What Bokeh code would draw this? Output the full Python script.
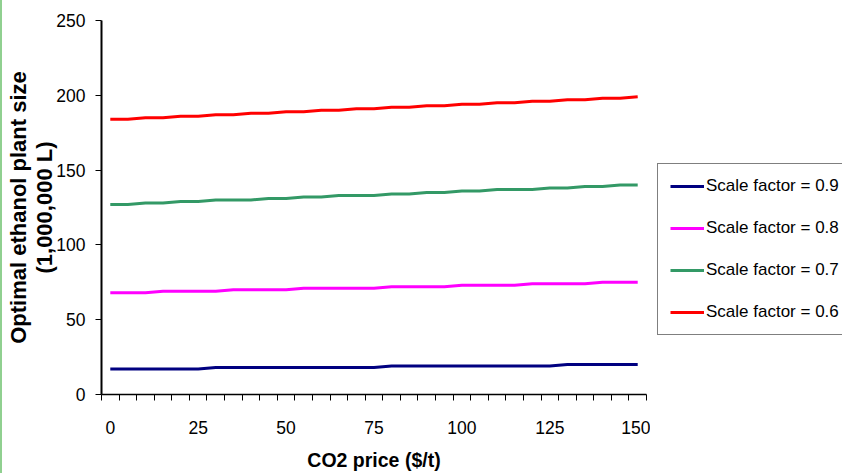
from bokeh.plotting import figure
from bokeh.layouts import row
from bokeh.models import Range1d, FixedTicker, Legend, LegendItem, LinearAxis
from bokeh.embed import file_html
from bokeh.resources import INLINE

# CO2 price ($/t), one point every 5 $/t
co2_price = [0, 5, 10, 15, 20, 25, 30, 35, 40, 45, 50, 55, 60, 65, 70, 75,
             80, 85, 90, 95, 100, 105, 110, 115, 120, 125, 130, 135, 140, 145, 150]

# Optimal ethanol plant size (1,000,000 L) for each scale factor
size_sf09 = [17, 17, 17, 17, 17, 17, 18, 18, 18, 18, 18, 18, 18, 18, 18, 18,
             19, 19, 19, 19, 19, 19, 19, 19, 19, 19, 20, 20, 20, 20, 20]
size_sf08 = [68, 68, 68, 69, 69, 69, 69, 70, 70, 70, 70, 71, 71, 71, 71, 71,
             72, 72, 72, 72, 73, 73, 73, 73, 74, 74, 74, 74, 75, 75, 75]
size_sf07 = [127, 127, 128, 128, 129, 129, 130, 130, 130, 131, 131, 132, 132, 133, 133, 133,
             134, 134, 135, 135, 136, 136, 137, 137, 137, 138, 138, 139, 139, 140, 140]
size_sf06 = [184, 184, 185, 185, 186, 186, 187, 187, 188, 188, 189, 189, 190, 190, 191, 191,
             192, 192, 193, 193, 194, 194, 195, 195, 196, 196, 197, 197, 198, 198, 199]

series_labels = ["Scale factor = 0.9", "Scale factor = 0.8",
                 "Scale factor = 0.7", "Scale factor = 0.6"]
series_colors = ["#000080", "#FF00FF", "#339966", "#FF0000"]

x_label_ticks = [0, 25, 50, 75, 100, 125, 150]
x_between_ticks = [-2.5 + 5 * i for i in range(32)]
y_ticks = [0, 50, 100, 150, 200, 250]

FONT = "Liberation Sans"

# ---- main chart ----
p = figure(width=650, height=473, output_backend="svg", toolbar_location=None,
           x_range=Range1d(-2.5, 152.5), y_range=Range1d(0, 250),
           min_border_left=99, min_border_right=6,
           min_border_top=20, min_border_bottom=78)
p.outline_line_color = None
p.grid.visible = False
p.background_fill_color = "white"
p.border_fill_color = "white"
p.styles = {"border-left": "2px solid #90D090", "box-sizing": "border-box"}

for ys, col in zip([size_sf09, size_sf08, size_sf07, size_sf06], series_colors):
    p.line(co2_price, ys, line_color=col, line_width=3)

# x axis, inner part: axis line with short tick marks between categories
xa = p.xaxis[0]
xa.ticker = FixedTicker(ticks=x_between_ticks, minor_ticks=[])
xa.major_tick_out = 6
xa.major_tick_in = 0
xa.major_tick_line_color = "black"
xa.major_tick_line_width = 1
xa.axis_line_color = "black"
xa.axis_line_width = 1.5
xa.major_label_text_color = None
xa.major_label_text_font_size = "1px"
xa.major_label_standoff = 0

# x axis, outer part: category labels and title
xb = LinearAxis(ticker=FixedTicker(ticks=x_label_ticks, minor_ticks=[]))
xb.axis_line_color = None
xb.major_tick_line_color = None
xb.minor_tick_line_color = None
xb.major_tick_out = 0
xb.major_tick_in = 0
xb.major_label_standoff = 20
xb.major_label_text_font = FONT
xb.major_label_text_font_size = "17.5px"
xb.major_label_text_color = "black"
xb.axis_label = "CO2 price ($/t)"
xb.axis_label_text_font = FONT
xb.axis_label_text_font_style = "bold"
xb.axis_label_text_font_size = "19.5px"
xb.axis_label_text_color = "black"
xb.axis_label_standoff = 12
p.add_layout(xb, "below")

ya = p.yaxis[0]
ya.ticker = FixedTicker(ticks=y_ticks, minor_ticks=[])
ya.major_tick_out = 6
ya.major_tick_in = 0
ya.major_tick_line_color = "black"
ya.axis_line_color = "black"
ya.axis_line_width = 2
ya.major_label_standoff = 10
ya.major_label_text_font = FONT
ya.major_label_text_font_size = "17.5px"
ya.major_label_text_color = "black"
ya.axis_label = "Optimal ethanol plant size\n(1,000,000 L)"
ya.axis_label_text_font = FONT
ya.axis_label_text_font_style = "bold"
ya.axis_label_text_font_size = "22px"
ya.axis_label_text_line_height = 1.05
ya.axis_label_text_color = "black"
ya.axis_label_standoff = -4

# ---- legend panel (frame is aligned with the main chart's frame) ----
lg = figure(width=192, height=473, output_backend="svg", toolbar_location=None,
            x_range=Range1d(0, 1), y_range=Range1d(0, 1),
            x_axis_location=None, y_axis_location=None,
            min_border=0, min_border_left=0, min_border_right=0,
            min_border_top=0, min_border_bottom=0)
lg.outline_line_color = None
lg.grid.visible = False
lg.background_fill_color = "white"
lg.border_fill_color = "white"

nan = float("nan")
key_renderers = [lg.line([nan], [nan], line_color=col, line_width=3) for col in series_colors]

legend = Legend(
    items=[LegendItem(label=lab, renderers=[r]) for lab, r in zip(series_labels, key_renderers)],
    location=(7, 59),
    orientation="vertical",
    border_line_color="black",
    border_line_width=1.5,
    background_fill_color="white",
    background_fill_alpha=1,
    padding=12,
    spacing=22,
    margin=0,
    label_height=20,
    glyph_height=20,
    glyph_width=34,
    label_standoff=2,
    label_text_font=FONT,
    label_text_font_size="17px",
    label_text_color="black",
)
lg.add_layout(legend, "center")

layout = row(p, lg)
open("out.html", "w").write(file_html(layout, INLINE))
